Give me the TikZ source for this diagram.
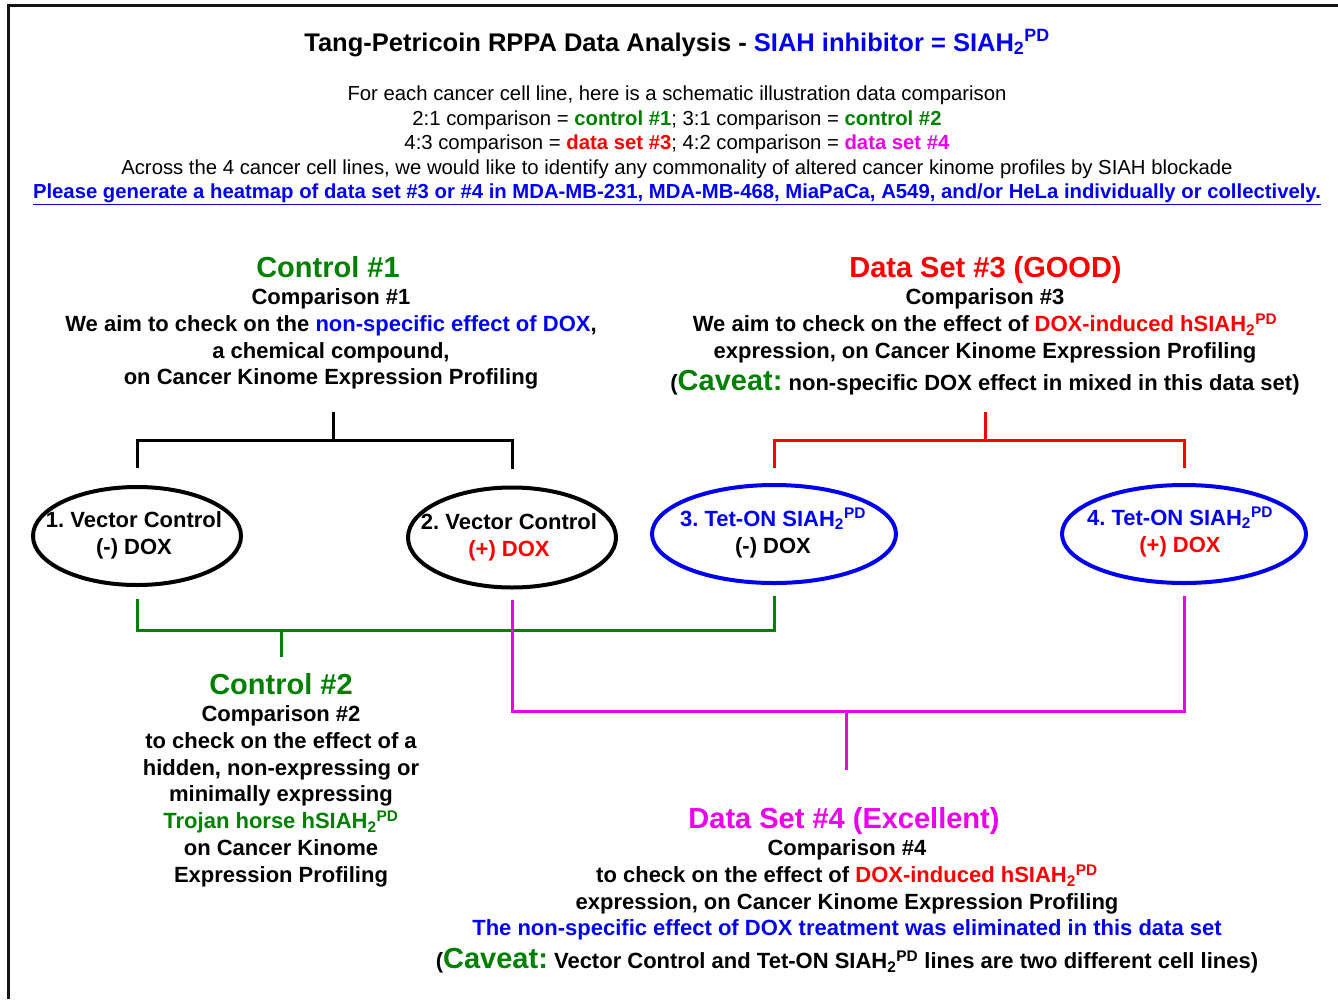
\documentclass[tikz,border=0pt]{standalone}
\usepackage{fontspec}
\setmainfont{Liberation Sans}
\usepackage{xcolor}
\usepackage{tikz}
\usetikzlibrary{shapes.geometric,calc}
\definecolor{figgreen}{RGB}{0,128,0}
\definecolor{figred}{RGB}{250,0,0}
\definecolor{figblue}{RGB}{0,0,240}
\definecolor{figmag}{RGB}{235,0,235}
\definecolor{figedge}{RGB}{20,20,20}
\newcommand{\siahpd}{SIAH\textsubscript{2}\textsuperscript{PD}}
\newcommand{\caveat}{{\fontsize{29}{34}\selectfont\color{figgreen}Caveat:}}
\frenchspacing

\begin{document}
\begin{tikzpicture}[x=1pt, y=-1pt,
  title/.style={font=\fontsize{25.5}{30}\selectfont\bfseries, anchor=base, inner sep=0pt},
  intro/.style={font=\fontsize{20.3}{24.6}\selectfont, align=center, anchor=north, inner sep=0pt},
  head/.style={font=\fontsize{29}{34}\selectfont\bfseries, anchor=base, inner sep=0pt},
  body/.style={font=\fontsize{22}{26.7}\selectfont\bfseries, align=center, anchor=north, inner sep=0pt},
  cell/.style={ellipse, line width=4pt, inner sep=0pt},
  celltext/.style={font=\fontsize{22}{27}\selectfont\bfseries, align=center, inner sep=0pt},
  link/.style={line width=3pt}]
  \useasboundingbox (0,0) rectangle (1338,999);
  % frame
  \draw[figedge, line width=3pt] (8,999) -- (8,5) -- (1345,5);

  % header
  \node[title] (title) at (677,51) {Tang-Petricoin RPPA Data Analysis - \textcolor{figblue}{SIAH inhibitor = \siahpd}};
  \node[intro] (intro) at (677,85.5) {For each cancer cell line, here is a schematic illustration data comparison\\
    2:1 comparison = \textcolor{figgreen}{\bfseries control \#1}; 3:1 comparison = \textcolor{figgreen}{\bfseries control \#2}\\
    4:3 comparison = \textcolor{figred}{\bfseries data set \#3}; 4:2 comparison = \textcolor{figmag}{\bfseries data set \#4}\\
    Across the 4 cancer cell lines, we would like to identify any commonality of altered cancer kinome profiles by SIAH blockade\\
    {\bfseries\color{figblue}\underline{Please generate a heatmap of data set \#3 or \#4 in MDA-MB-231, MDA-MB-468, MiaPaCa, A549, and/or HeLa individually or collectively.}}};

  % comparison texts
  \node[head, text=figgreen] (c1head) at (328,277.5) {Control \#1};
  \node[body] (c1body) at (331,288.7) {Comparison \#1\\
    We aim to check on the \textcolor{figblue}{non-specific effect of DOX},\\
    a chemical compound,\\
    on Cancer Kinome Expression Profiling};
  \node[head, text=figred] (d3head) at (985.5,277.5) {Data Set \#3 (GOOD)};
  \node[body] (d3body) at (985,288.7) {Comparison \#3\\
    We aim to check on the effect of \textcolor{figred}{DOX-induced h\siahpd}\\
    expression, on Cancer Kinome Expression Profiling\\[6pt]
    (\caveat{} non-specific DOX effect in mixed in this data set)};
  \node[head, text=figgreen] (c2head) at (281,694) {Control \#2};
  \node[body] (c2body) at (281,705.7) {Comparison \#2\\
    to check on the effect of a\\
    hidden, non-expressing or\\
    minimally expressing\\
    \textcolor{figgreen}{Trojan horse h\siahpd}\\
    on Cancer Kinome\\
    Expression Profiling};
  \node[head, text=figmag] (d4head) at (844,828) {Data Set \#4 (Excellent)};
  \node[body] (d4body) at (847,839.7) {Comparison \#4\\
    to check on the effect of \textcolor{figred}{DOX-induced h\siahpd}\\
    expression, on Cancer Kinome Expression Profiling\\
    \textcolor{figblue}{The non-specific effect of DOX treatment was eliminated in this data set}\\[6pt]
    (\caveat{} Vector Control and Tet-ON \siahpd{} lines are two different cell lines)};

  % cell lines
  \node[cell, draw=black, minimum width=208pt, minimum height=98pt] (e1) at (137,536) {};
  \node[cell, draw=black, minimum width=208pt, minimum height=100pt] (e2) at (512,537.5) {};
  \node[cell, draw=figblue, minimum width=244pt, minimum height=98pt] (e3) at (774,534) {};
  \node[cell, draw=figblue, minimum width=244pt, minimum height=98pt] (e4) at (1184,534) {};
  \node[celltext] (t1) at ($(e1)+(-3,-1)$) {1. Vector Control\\(-) DOX};
  \node[celltext] (t2) at ($(e2)+(-3,0)$) {2. Vector Control\\\textcolor{figred}{(+) DOX}};
  \node[celltext] (t3) at ($(e3)+(-1,-1)$) {\textcolor{figblue}{3. Tet-ON \siahpd}\\(-) DOX};
  \node[celltext] (t4) at ($(e4)+(-4,-2)$) {\textcolor{figblue}{4. Tet-ON \siahpd}\\\textcolor{figred}{(+) DOX}};

  % brackets
  \coordinate (c1join) at (333,440);
  \coordinate (c1stub) at (333,412);
  \coordinate (d3join) at (985,440);
  \coordinate (d3stub) at (985,412);
  \coordinate (c2join) at (281,630);
  \coordinate (c2stub) at (281,657);
  \coordinate (d4join) at (846,711);
  \coordinate (d4stub) at (846,770);
  \draw[link, black] ([yshift=17pt]e1.north) |- (c1join) -| ([yshift=17pt]e2.north);
  \draw[link, black] (c1stub) -- (c1join);
  \draw[link, figred] ([yshift=15pt]e3.north) |- (d3join) -| ([yshift=15pt]e4.north);
  \draw[link, figred] (d3stub) -- (d3join);
  \draw[link, figgreen] ([yshift=-12pt]e1.south) |- (c2join) -| ([yshift=-11pt]e3.south);
  \draw[link, figgreen] (c2join) -- (c2stub);
  \draw[link, figmag] ([yshift=-10pt]e2.south) |- (d4join) -| ([yshift=-11pt]e4.south);
  \draw[link, figmag] (d4join) -- (d4stub);
\end{tikzpicture}
\end{document}
